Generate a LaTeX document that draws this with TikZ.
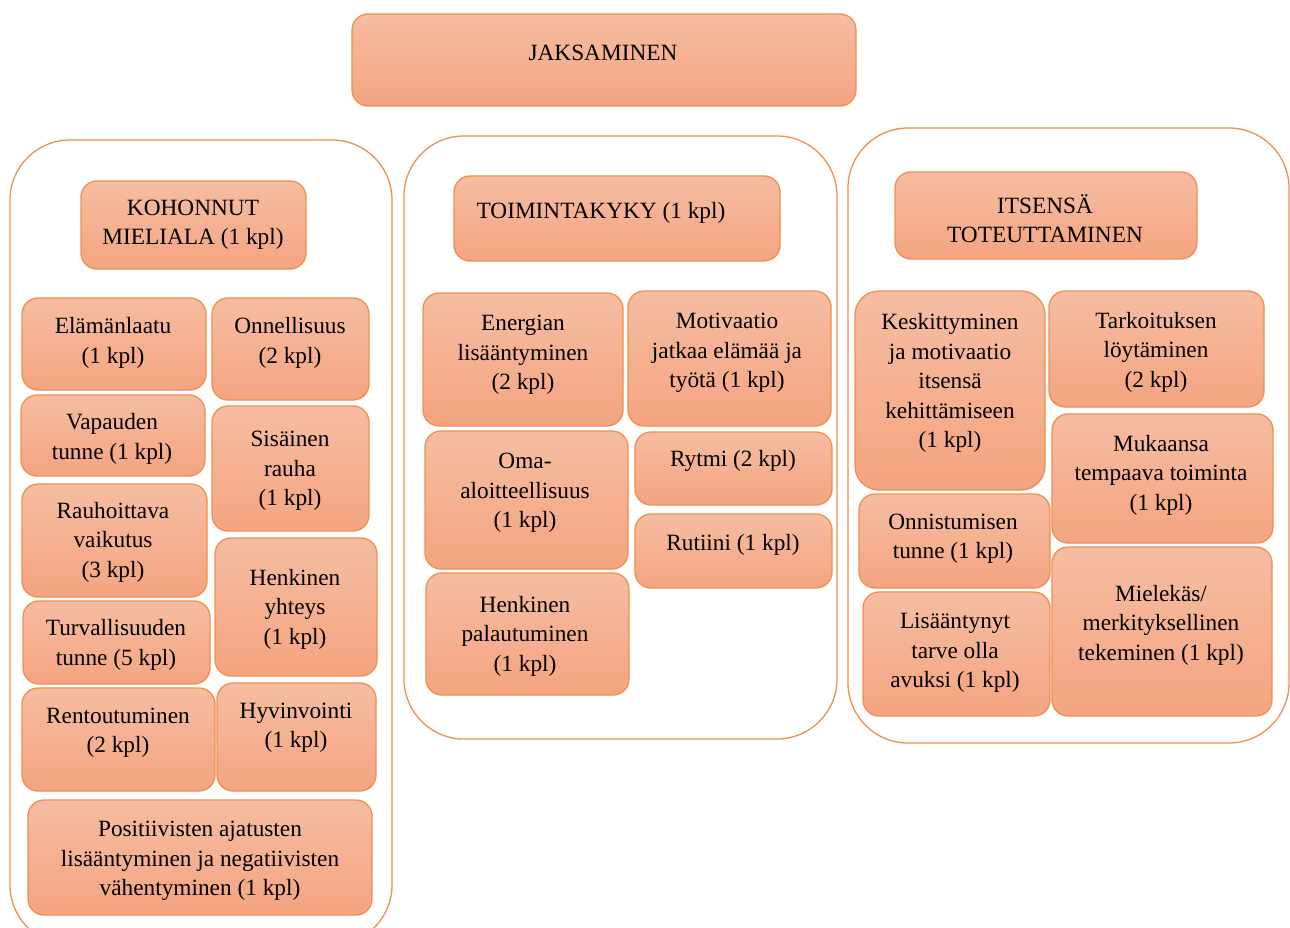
\documentclass[tikz,border=0pt]{standalone}
\usepackage{fontspec}
\setmainfont{Liberation Serif}
\usepackage{tikz}
\usetikzlibrary{positioning}

\definecolor{reuna}{RGB}{240,143,80}
\definecolor{boxtop}{RGB}{246,189,162}
\definecolor{boxbot}{RGB}{244,164,128}

\begin{document}
\begin{tikzpicture}[x=1pt,y=-1pt,
    kehys/.style={draw=reuna,line width=1.3pt,fill=white,rounded corners=60pt},
    boksi/.style={draw=reuna,line width=1.3pt,rounded corners=16pt,top color=boxtop,bottom color=boxbot},
    teksti/.style={align=center,inner sep=0pt,yshift=-3pt,font=\fontsize{23.3}{29.5}\selectfont}]

    \clip (0,0) rectangle (1290,928);

    \node (jaks) at (604,60) [boksi,minimum width=504pt,minimum height=92pt] {};
    \node (jaks-t) at (603,50) [teksti] {JAKSAMINEN};

    \node (vasen) at (201,542.5) [kehys,minimum width=382pt,minimum height=805pt] {};
    \node (keski) at (620.5,437.5) [kehys,minimum width=433pt,minimum height=603pt] {};
    \node (oikea) at (1068.5,435.5) [kehys,minimum width=441pt,minimum height=615pt] {};

    \node (kohon) at (193.5,225) [boksi,minimum width=225pt,minimum height=88pt] {};
    \node (kohon-t) at (193,222) [teksti] {KOHONNUT\\MIELIALA (1 kpl)};
    \node (elama) at (114,344) [boksi,minimum width=184pt,minimum height=92pt] {};
    \node (elama-t) at (113,340) [teksti] {Elämänlaatu\\(1 kpl)};
    \node (onnell) at (290.5,349) [boksi,minimum width=157pt,minimum height=102pt] {};
    \node (onnell-t) at (290,340) [teksti] {Onnellisuus\\(2 kpl)};
    \node (vapaus) at (113,435.5) [boksi,minimum width=184pt,minimum height=81pt] {};
    \node (vapaus-t) at (112,436) [teksti] {Vapauden\\tunne (1 kpl)};
    \node (sisrauha) at (290.5,468.5) [boksi,minimum width=157pt,minimum height=125pt] {};
    \node (sisrauha-t) at (290,468) [teksti] {Sisäinen\\rauha\\(1 kpl)};
    \node (rauhoit) at (114.5,540.5) [boksi,minimum width=185pt,minimum height=113pt] {};
    \node (rauhoit-t) at (113,539) [teksti] {Rauhoittava\\vaikutus\\(3 kpl)};
    \node (henkyht) at (296,607) [boksi,minimum width=162pt,minimum height=138pt] {};
    \node (henkyht-t) at (295,606) [teksti] {Henkinen\\yhteys\\(1 kpl)};
    \node (turva) at (116.5,642.5) [boksi,minimum width=187pt,minimum height=83pt] {};
    \node (turva-t) at (116,642) [teksti] {Turvallisuuden\\tunne (5 kpl)};
    \node (rento) at (118.5,739.5) [boksi,minimum width=193pt,minimum height=103pt] {};
    \node (rento-t) at (118,730) [teksti] {Rentoutuminen\\(2 kpl)};
    \node (hyvinv) at (296.5,737) [boksi,minimum width=159pt,minimum height=108pt] {};
    \node (hyvinv-t) at (296,725) [teksti] {Hyvinvointi\\(1 kpl)};
    \node (posit) at (200,857.5) [boksi,minimum width=344pt,minimum height=115pt] {};
    \node (posit-t) at (200,858) [teksti] {Positiivisten ajatusten\\lisääntyminen ja negatiivisten\\vähentyminen (1 kpl)};

    \node (toimin) at (617,218.5) [boksi,minimum width=326pt,minimum height=85pt] {};
    \node (toimin-t) at (601,210) [teksti] {TOIMINTAKYKY (1 kpl)};
    \node (energia) at (523,359.5) [boksi,minimum width=200pt,minimum height=133pt] {};
    \node (energia-t) at (523,352) [teksti] {Energian\\lisääntyminen\\(2 kpl)};
    \node (motiv) at (729.5,358.5) [boksi,minimum width=203pt,minimum height=135pt] {};
    \node (motiv-t) at (727,350) [teksti] {Motivaatio\\jatkaa elämää ja\\työtä (1 kpl)};
    \node (oma) at (526.5,500) [boksi,minimum width=203pt,minimum height=138pt] {};
    \node (oma-t) at (525,490) [teksti] {Oma-\\aloitteellisuus\\(1 kpl)};
    \node (rytmi) at (733.5,468.5) [boksi,minimum width=197pt,minimum height=73pt] {};
    \node (rytmi-t) at (733,458) [teksti] {Rytmi (2 kpl)};
    \node (rutiini) at (733.5,551) [boksi,minimum width=197pt,minimum height=74pt] {};
    \node (rutiini-t) at (733,542) [teksti] {Rutiini (1 kpl)};
    \node (henkpal) at (527.5,634) [boksi,minimum width=203pt,minimum height=122pt] {};
    \node (henkpal-t) at (525,633) [teksti] {Henkinen\\palautuminen\\(1 kpl)};

    \node (itsensa) at (1046,215.5) [boksi,minimum width=302pt,minimum height=87pt] {};
    \node (itsensa-t) at (1045,215.5) [teksti] {ITSENSÄ\\TOTEUTTAMINEN};
    \node (kesk) at (950,390.5) [boksi,rounded corners=24pt,minimum width=190pt,minimum height=199pt] {};
    \node (kesk-t) at (950,380) [teksti] {Keskittyminen\\ja motivaatio\\itsensä\\kehittämiseen\\(1 kpl)};
    \node (tarkoit) at (1156.5,349) [boksi,minimum width=215pt,minimum height=116pt] {};
    \node (tarkoit-t) at (1156,349) [teksti] {Tarkoituksen\\löytäminen\\(2 kpl)};
    \node (mukaansa) at (1162.5,478.5) [boksi,minimum width=221pt,minimum height=129pt] {};
    \node (mukaansa-t) at (1161,472) [teksti] {Mukaansa\\tempaava toiminta\\(1 kpl)};
    \node (onnist) at (954.5,541) [boksi,minimum width=191pt,minimum height=94pt] {};
    \node (onnist-t) at (953,536) [teksti] {Onnistumisen\\tunne (1 kpl)};
    \node (mielekas) at (1162,631.5) [boksi,minimum width=220pt,minimum height=169pt] {};
    \node (mielekas-t) at (1161,622) [teksti] {Mielekäs/\\merkityksellinen\\tekeminen (1 kpl)};
    \node (lisaant) at (956.5,654) [boksi,minimum width=187pt,minimum height=124pt] {};
    \node (lisaant-t) at (955,650) [teksti] {Lisääntynyt\\tarve olla\\avuksi (1 kpl)};

\end{tikzpicture}
\end{document}
